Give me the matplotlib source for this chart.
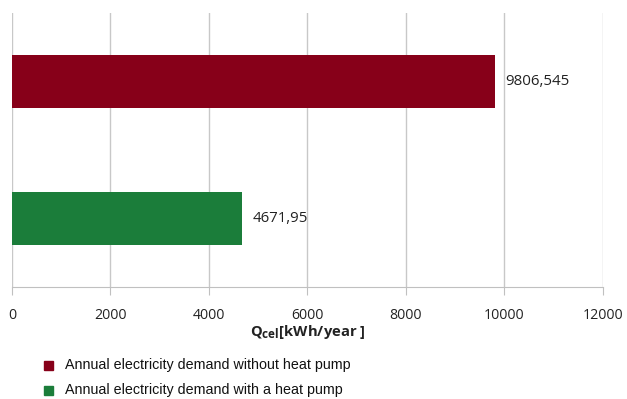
import matplotlib
matplotlib.use("Agg")
import matplotlib.pyplot as plt
from matplotlib.patches import Rectangle
from matplotlib import font_manager
try:
    import matplotlib._mathtext as _mt
    _mt.SHRINK_FACTOR = 0.8
except Exception:
    pass

categories = ["Annual electricity demand with a heat pump",
              "Annual electricity demand without heat pump"]
values = [4671.95, 9806.545]
colors = ["#1b7d3a", "#870019"]
xticks = [0, 2000, 4000, 6000, 8000, 10000, 12000]
xlabel = r"$\mathbf{Q_{cel}}$[kWh/year ]"

names = {f.name for f in font_manager.fontManager.ttflist}
has_narrow = "Liberation Sans Narrow" in names
narrow = "Liberation Sans Narrow" if has_narrow else "Liberation Sans"
plt.rcParams["font.family"] = ["Open Sans", "DejaVu Sans"]
plt.rcParams["mathtext.fontset"] = "custom"
plt.rcParams["mathtext.bf"] = "Open Sans:bold"
plt.rcParams["mathtext.rm"] = "Open Sans"

W, H = 627, 399
fig = plt.figure(figsize=(W/100, H/100), dpi=100)
ax = fig.add_axes([12/W, 1-287/H, 591/W, 274/H])

ypos = list(range(len(values)))
ax.barh(ypos, values, height=0.385, color=colors, zorder=3)
for y, v in zip(ypos, values):
    ax.annotate(str(v).replace(".", ","), (v, y), xytext=(7.5, 0),
                textcoords="offset points", va="center", ha="left",
                fontsize=10.8, color="#222222", zorder=4)

ax.set_xlim(0, 12000)
ax.set_ylim(-0.5, 1.5)
ax.set_xticks(xticks)
ax.set_xticklabels([str(t) for t in xticks], fontsize=10.2, color="#222222")
ax.set_yticks([])
ax.grid(axis="x", color="#c8c8c8", linewidth=1, zorder=0)
for s in ["top", "right", "left"]:
    ax.spines[s].set_visible(False)
ax.spines["bottom"].set_color("#c0c0c0")
ax.tick_params(axis="x", length=6, color="#c0c0c0", pad=9)
ax.set_xlabel(xlabel, fontsize=10.6, fontweight="bold", color="#222222", labelpad=0)

# legend (manual placement)
leg_order = [1, 0]
leg_size = 11.8 if has_narrow else 10.3
for i, idx in enumerate(leg_order):
    yc = 365 + 25 * i
    fig.patches.append(Rectangle((44/W, 1-(yc+4.5)/H), 9/W, 9/H,
                                 transform=fig.transFigure, color=colors[idx]))
    fig.text(65/W, 1-yc/H, categories[idx], va="center", ha="left",
             family=narrow, fontsize=leg_size, color="#111111")

fig.savefig("out.png", dpi=100)
